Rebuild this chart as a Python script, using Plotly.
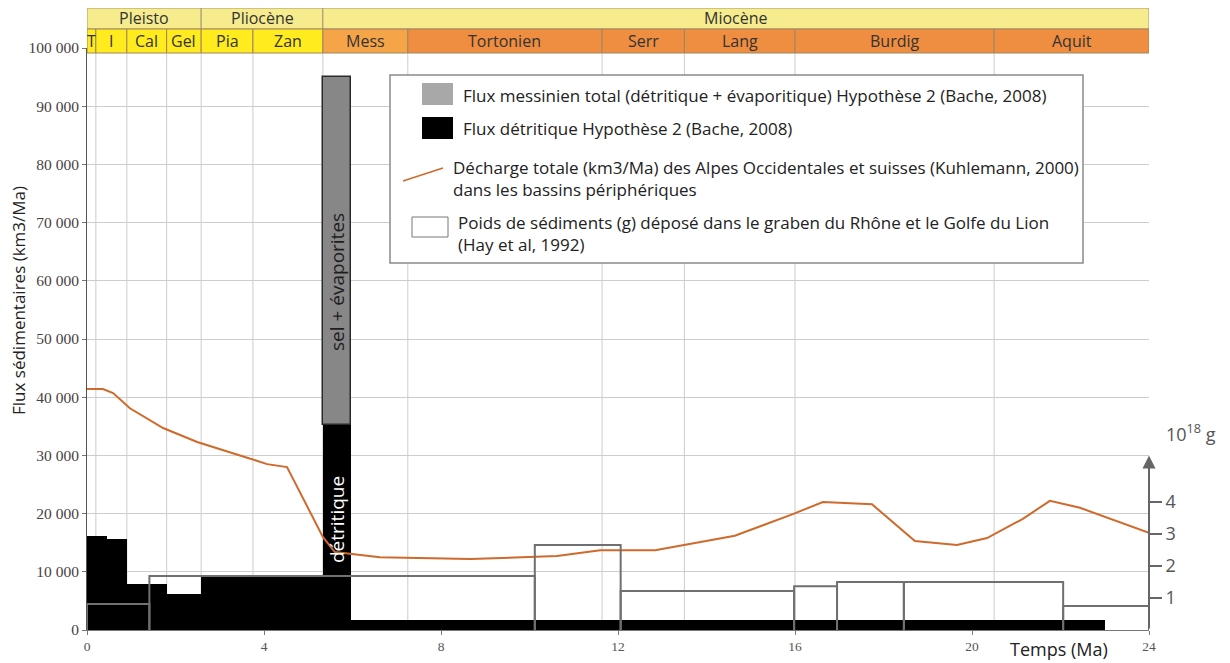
import plotly.graph_objects as go

# ---------------- data ----------------
stage_names = ["T", "I", "Cal", "Gel", "Pia", "Zan", "Mess", "Tortonien", "Serr", "Lang", "Burdig", "Aquit"]
stage_edges = [0, 0.2, 0.9, 1.8, 2.58, 3.75, 5.33, 7.25, 11.64, 13.5, 16.0, 20.5, 24.0]
epoch_names = ["Pleisto", "Pliocène", "Miocène"]
epoch_edges = [0, 2.58, 5.33, 24.0]

# Flux détritique Hypothèse 2 (Bache, 2008), km3/Ma
detr_edges = [0, 0.45, 0.9, 1.8, 2.58, 5.33, 5.97, 23.0]
detr_values = [16200, 15600, 7900, 6200, 9100, 35200, 1700]
# Flux messinien total (détritique + évaporitique)
mess_edges = [5.33, 5.97]
mess_total = [95000]
mess_detr = [35200]

# Décharge totale (Kuhlemann, 2000), km3/Ma
kuhl_t = [0, 0.36, 0.59, 0.97, 1.72, 2.49, 3.62, 4.07, 4.52, 5.33, 5.6, 6.62, 8.66, 10.62,
          11.6, 12.84, 14.64, 15.95, 16.63, 17.74, 18.71, 19.66, 20.34, 21.15, 21.76, 22.44, 24.0]
kuhl_v = [41400, 41400, 40700, 38100, 34700, 32300, 29600, 28500, 28000, 16000, 13400, 12500,
          12200, 12700, 13700, 13700, 16200, 19900, 22000, 21600, 15300, 14600, 15800, 19100,
          22200, 21000, 16700]

# Poids de sédiments (Hay et al, 1992), 10^18 g
hay_edges = [0, 1.41, 10.12, 12.06, 15.98, 16.95, 18.46, 22.06, 24.0]
hay_values = [0.81, 1.69, 2.66, 1.22, 1.37, 1.5, 1.5, 0.75]

y_ticks = list(range(0, 100001, 10000))
y_ticktext = ["0"] + [f"{v // 1000} 000" for v in y_ticks[1:]]
x_ticks = [0, 4, 8, 12, 16, 20, 24]
y2_ticks = [1, 2, 3, 4]

# ---------------- layout helpers (page pixel coords; page has 8px body margin) ----------------
W, H = 1230, 663
OFF = 8
PL, PR, PT, PB = 87, 1149, 48, 630          # plot area in page pixels
PW, PH = PR - PL, PB - PT


def px(x):
    return (x - PL) / PW


def py(y):
    return (PB - y) / PH


SANS = "Open Sans, Noto Sans, sans-serif"
SERIF = "Liberation Serif, serif"

fig = go.Figure()

# black detrital bars
cx = [(a + b) / 2 for a, b in zip(detr_edges[:-1], detr_edges[1:])]
wd = [b - a for a, b in zip(detr_edges[:-1], detr_edges[1:])]
fig.add_trace(go.Bar(x=cx, y=detr_values, width=wd, base=0, marker=dict(color="black", line=dict(width=0)),
                     showlegend=False, hoverinfo="skip"))
# grey messinian evaporites bar
fig.add_trace(go.Bar(x=[(mess_edges[0] + mess_edges[1]) / 2],
                     y=[t - d for t, d in zip(mess_total, mess_detr)],
                     base=mess_detr, width=[mess_edges[1] - mess_edges[0]],
                     marker=dict(color="#878787", line=dict(color="#2a2a2a", width=1.5)),
                     showlegend=False, hoverinfo="skip"))
# orange line
fig.add_trace(go.Scatter(x=kuhl_t, y=kuhl_v, mode="lines", line=dict(color="#CF6A2C", width=2),
                         showlegend=False, hoverinfo="skip"))
# Hay boxes on secondary axis
bx, by = [], []
for a, b, v in zip(hay_edges[:-1], hay_edges[1:], hay_values):
    bx += [a, a, b, b, None]
    by += [0, v, v, 0, None]
fig.add_trace(go.Scatter(x=bx, y=by, yaxis="y2", mode="lines", line=dict(color="#707070", width=2),
                         showlegend=False, hoverinfo="skip", cliponaxis=False))

shapes = []
annotations = []


def note(x, y, text, size, color="#222", xanchor="center", yanchor="middle", xref="paper", yref="paper",
         angle=0, family=SANS):
    annotations.append(dict(x=x, y=y, xref=xref, yref=yref, text=text, showarrow=False, textangle=angle,
                            xanchor=xanchor, yanchor=yanchor, align="left",
                            font=dict(family=family, size=size, color=color)))


# vertical grid lines at stage boundaries
for e in stage_edges[1:-1]:
    shapes.append(dict(type="line", xref="x", yref="paper", x0=e, x1=e, y0=0, y1=py(52),
                       line=dict(color="#cccccc", width=1), layer="below"))

# header
for a, b, n in zip(epoch_edges[:-1], epoch_edges[1:], epoch_names):
    shapes.append(dict(type="rect", xref="x", yref="paper", x0=a, x1=b, y0=py(29), y1=py(8),
                       fillcolor="#F6EC8E", line=dict(color="#A89870", width=1)))
    note((a + b) / 2, py(18.5), n, 16, "#333", xref="x")
for a, b, n in zip(stage_edges[:-1], stage_edges[1:], stage_names):
    if a < 5.3:
        col = "#FFEB1E"
    elif n == "Mess":
        col = "#F5A448"
    else:
        col = "#EF8D40"
    shapes.append(dict(type="rect", xref="x", yref="paper", x0=a, x1=b, y0=py(53), y1=py(29),
                       fillcolor=col, line=dict(color="#A08660", width=1)))
    note((a + b) / 2, py(41), n, 16, "#333", xref="x")

# legend box
shapes.append(dict(type="rect", xref="paper", yref="paper", x0=px(390), x1=px(1083), y0=py(263), y1=py(75),
                   fillcolor="white", line=dict(color="#8a8a8a", width=1.5)))
shapes.append(dict(type="rect", xref="paper", yref="paper", x0=px(422), x1=px(453), y0=py(105), y1=py(83),
                   fillcolor="#A8A8A8", line=dict(width=0)))
shapes.append(dict(type="rect", xref="paper", yref="paper", x0=px(422), x1=px(453), y0=py(139), y1=py(117),
                   fillcolor="black", line=dict(width=0)))
shapes.append(dict(type="line", xref="paper", yref="paper", x0=px(403), x1=px(443), y0=py(181), y1=py(168),
                   line=dict(color="#CF6A2C", width=1.5)))
shapes.append(dict(type="rect", xref="paper", yref="paper", x0=px(412), x1=px(448), y0=py(237), y1=py(217),
                   fillcolor="white", line=dict(color="#777", width=1)))
LEG = 17
note(px(461), py(95), "Flux messinien total (détritique + évaporitique) Hypothèse 2 (Bache, 2008)", LEG, xanchor="left")
note(px(461), py(129), "Flux détritique Hypothèse 2 (Bache, 2008)", LEG, xanchor="left")
note(px(451), py(178.5), "Décharge totale (km3/Ma) des Alpes Occidentales et suisses (Kuhlemann, 2000)<br>"
     "dans les bassins périphériques", LEG, xanchor="left")
note(px(456), py(234), "Poids de sédiments (g) déposé dans le graben du Rhône et le Golfe du Lion<br>"
     "(Hay et al, 1992)", LEG, xanchor="left")

# texts in the messinian bar
mx = (mess_edges[0] + mess_edges[1]) / 2
note(mx, 59800, "sel + évaporites", 19, "#1e1e1e", xref="x", yref="y", angle=-90)
note(mx, 18900, "détritique", 19, "white", xref="x", yref="y", angle=-90)

# axis titles
note(px(18), py(301), "Flux sédimentaires (km3/Ma)", 17, "#222", angle=-90)
note(px(1059), py(649), "Temps (Ma)", 18, "#222")
note(px(1164), py(433), "10<sup>18</sup> g", 18, "#555", xanchor="left")

# right axis arrow
annotations.append(dict(x=24, y=5.45, xref="x", yref="y2", ax=24, ay=0, axref="x", ayref="y2", text="",
                        showarrow=True, arrowhead=2, arrowsize=1.3, arrowwidth=2, arrowcolor="#666"))

fig.update_layout(
    width=W, height=H,
    margin=dict(l=PL - OFF, r=W - (PR - OFF), t=PT - OFF, b=H - (PB - OFF), autoexpand=False),
    paper_bgcolor="white", plot_bgcolor="white", barmode="overlay", bargap=0,
    shapes=shapes, annotations=annotations, showlegend=False,
    xaxis=dict(range=[0, 24], tickvals=x_ticks, showgrid=False, zeroline=False, showline=True,
               linecolor="#777", linewidth=1, ticks="outside", ticklen=4, tickcolor="#777",
               tickfont=dict(family=SERIF, size=13.5, color="#555")),
    yaxis=dict(range=[0, 100000], tickvals=y_ticks, ticktext=y_ticktext, showgrid=True,
               gridcolor="#cdcdcd", gridwidth=1, zeroline=False, showline=True, linecolor="#555",
               ticks="outside", ticklen=4, tickcolor="#777",
               tickfont=dict(family=SERIF, size=15.5, color="#4a3f3f")),
    yaxis2=dict(range=[0, PH / 32.0], overlaying="y", side="right", tickvals=y2_ticks, showgrid=False,
                zeroline=False, showline=False, ticks="outside", ticklen=12, tickwidth=2, tickcolor="#666",
                tickfont=dict(family=SANS, size=18, color="#555")),
)

fig.write_html("out.html")
